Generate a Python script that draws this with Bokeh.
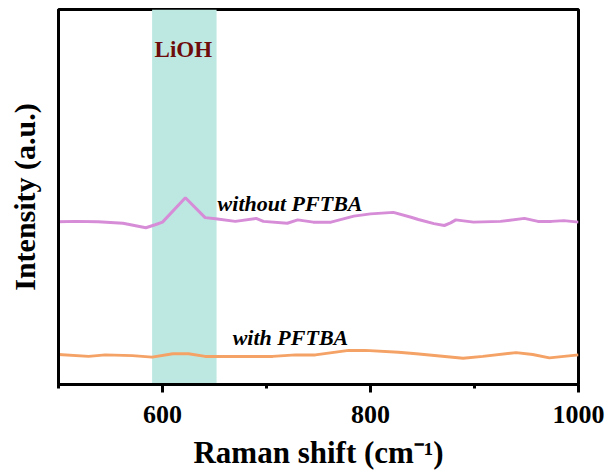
from bokeh.plotting import figure
from bokeh.models import Range1d, FixedTicker, BoxAnnotation, Label
from bokeh.embed import file_html
from bokeh.resources import INLINE

# Data (Raman shift in cm-1, intensity in arbitrary units)
x_without = [500, 516, 538, 562, 584, 593, 600, 622, 641, 651, 670, 690, 697, 720, 730,
             745, 762, 784, 800, 822, 839, 846, 861, 871, 877, 882, 899, 925, 948, 961,
             974, 986, 1000]
y_without = [43.4, 43.5, 43.4, 43.0, 41.8, 42.6, 43.3, 49.8, 44.5, 44.2, 43.5, 44.3, 43.5,
             43.0, 43.9, 43.3, 43.3, 44.9, 45.5, 45.9, 44.6, 44.0, 42.9, 42.4, 43.1, 43.9,
             43.3, 43.5, 44.3, 43.5, 43.5, 43.7, 43.3]

x_with = [500, 529, 545, 571, 590, 610, 625, 641, 673, 706, 728, 747, 779, 795, 827, 844,
          889, 908, 940, 956, 972, 1000]
y_with = [8.0, 7.5, 7.9, 7.7, 7.3, 8.2, 8.2, 7.5, 7.5, 7.5, 7.9, 7.9, 9.1, 9.1, 8.6, 8.2,
          7.0, 7.5, 8.5, 8.0, 7.1, 7.9]

band_range = [590, 652]          # LiOH region
major_ticks = [600, 800, 1000]
minor_ticks = [500, 700, 900]

FONT = "Liberation Serif"

p = figure(width=609, height=475, output_backend="svg", toolbar_location=None,
           x_range=Range1d(500, 1000), y_range=Range1d(0, 100),
           min_border_left=58, min_border_right=31, min_border_top=9, min_border_bottom=91)
p.xgrid.visible = False
p.ygrid.visible = False
p.background_fill_color = "white"
p.border_fill_color = "white"
p.outline_line_color = "black"
p.outline_line_width = 3

band = BoxAnnotation(left=band_range[0], right=band_range[1], fill_color="#BDE8E2",
                     fill_alpha=1.0, line_color=None, level="underlay")
p.add_layout(band)

p.line(x_without, y_without, line_color="#D68CD7", line_width=3)
p.line(x_with, y_with, line_color="#F5A266", line_width=3)

# x axis
xa = p.xaxis[0]
xa.ticker = FixedTicker(ticks=major_ticks, minor_ticks=minor_ticks)
xa.axis_line_width = 3
xa.major_tick_line_width = 3
xa.minor_tick_line_width = 3
xa.major_tick_in = 0
xa.major_tick_out = 8
xa.minor_tick_in = 0
xa.minor_tick_out = 4
xa.major_label_text_font = FONT
xa.major_label_text_font_style = "bold"
xa.major_label_text_font_size = "26px"
xa.major_label_text_color = "black"
xa.major_label_standoff = 13
xa.axis_label = "Raman shift (cm\u207b\u00b9)"
xa.axis_label_text_font = FONT
xa.axis_label_text_font_style = "bold"
xa.axis_label_text_font_size = "31px"
xa.axis_label_text_color = "black"
xa.axis_label_standoff = 9

# y axis
ya = p.yaxis[0]
ya.ticker = FixedTicker(ticks=[])
ya.axis_line_width = 3
ya.major_tick_line_color = None
ya.minor_tick_line_color = None
ya.major_label_text_font_size = "0px"
ya.axis_label = "Intensity (a.u.)"
ya.axis_label_text_font = FONT
ya.axis_label_text_font_style = "bold"
ya.axis_label_text_font_size = "30px"
ya.axis_label_text_color = "black"
ya.axis_label_standoff = 18

p.add_layout(Label(x=620, y=89.3, text="LiOH", text_font=FONT, text_font_style="bold",
                   text_font_size="23px", text_color="#6E0B0B", text_align="center",
                   text_baseline="alphabetic"))
p.add_layout(Label(x=653, y=48.3, text="without PFTBA", text_font=FONT,
                   text_font_style="bold italic", text_font_size="22px", text_color="black",
                   text_align="left", text_baseline="alphabetic"))
p.add_layout(Label(x=667.5, y=12.5, text="with PFTBA", text_font=FONT,
                   text_font_style="bold italic", text_font_size="22px", text_color="black",
                   text_align="left", text_baseline="alphabetic"))

open("out.html", "w").write(file_html(p, INLINE))
